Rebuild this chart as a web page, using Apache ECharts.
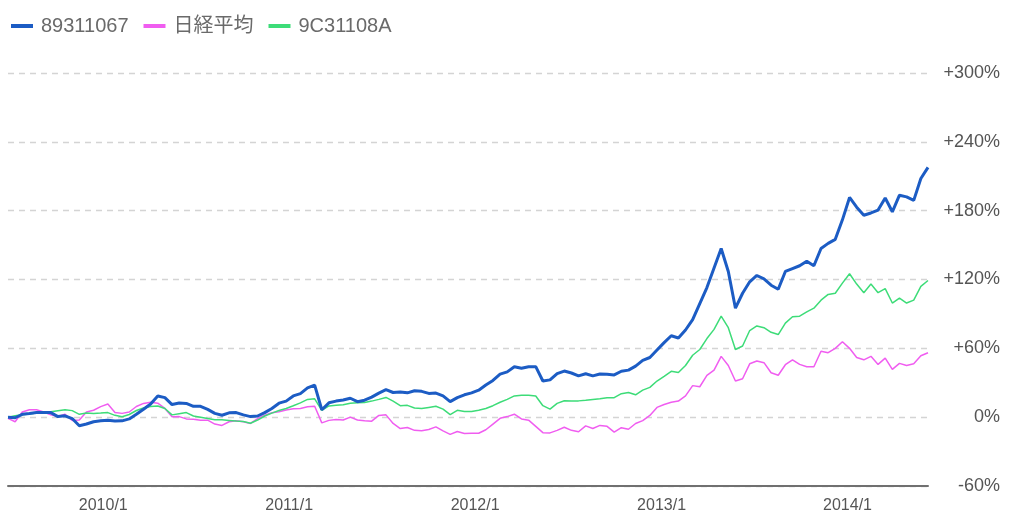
<!DOCTYPE html>
<html>
<head>
<meta charset="utf-8">
<script src="https://cdn.jsdelivr.net/npm/echarts@6/dist/echarts.min.js"></script>
<style>
html,body{margin:0;padding:0;background:#fff;}
#chart{width:1024px;height:530px;}
</style>
</head>
<body>
<div id="chart"></div>
<script>
// Biweekly observation dates (start date + 14-day steps), 130 points
const startDate = [2009, 5, 28];
const stepDays = 14;
const pointCount = 130;

const seriesNames = ['89311067', '日経平均', '9C31108A'];

// Returns in %
const fund89311067 = [
  0, -0.5, 2.5, 3.2, 4, 4.1, 4, 0.5, 1.2, -1.2,
  -7.5, -6, -4, -3.2, -2.6, -3.3, -3.2, -1.5, 2.5, 6.9,
  11.5, 18.5, 17, 11, 12.3, 12, 9.5, 9.5, 6.8, 3.3,
  1.7, 3.8, 4, 2, 0.5, 1, 4, 7.6, 12.2, 14,
  18.5, 20.5, 25.5, 28, 6.5, 12.5, 14, 15, 16.5, 13.5,
  14.8, 17.5, 21, 24, 21.5, 22, 21.2, 23, 22.5, 20.7,
  21, 18.5, 13.5, 17, 19.5, 21.2, 23.5, 28, 32, 37.5,
  39.5, 44, 42.7, 44, 44, 31.5, 32.5, 38, 40.2, 38.5,
  36, 37.8, 36, 37.6, 37.4, 36.8, 40, 41, 44.5, 49.5,
  52, 58.5, 65, 71, 69, 76, 85, 99, 113, 130,
  147, 127, 95, 108, 118, 123.5, 120.5, 115, 111.5, 127,
  129.5, 132, 136, 132, 147, 151.5, 155, 172, 191.5, 183,
  176, 178, 180.5, 191, 179, 193.5, 192, 189, 208, 217.7
];
const nikkei = [
  -1, -4, 4.5, 6.5, 6.5, 4.5, 2, 0.6, 2.5, -2.8,
  -2.4, 4.5, 6, 9.2, 11.5, 4.1, 3.3, 4.5, 9.3, 12,
  13, 12.2, 7.6, 0.3, 0.5, -1.5, -1.8, -2.6, -2.6, -6,
  -7.2, -4, -3.2, -4, -5.5, -1.2, 1.7, 3.8, 4.8, 6.2,
  7.3, 7.6, 9, 9.5, -5, -2.8, -2, -2.5, 0, -2.5,
  -3.2, -3.5, 1.5, 2, -5.5, -9.9, -9, -11.5, -11.8, -10.8,
  -8.5, -12, -15, -12.5, -14.3, -14, -14, -11, -6, -1,
  0.5, 2.6, -1.5, -2.6, -8, -13.5, -13.7, -11.5, -8.8, -11.5,
  -12.7, -7.6, -9.9, -7.2, -8, -13, -9.2, -10.5, -5.5, -3,
  1.5, 8.5, 11, 13, 14, 18.5, 27.5, 26.5, 36.5, 41,
  53, 45, 31.5, 33.5, 46.5, 48.9, 47.5, 38.7, 36.5, 45.7,
  50, 46, 44, 44, 57.5, 56.2, 60, 65.8, 60, 52,
  50, 53, 46, 51.5, 41.6, 46.9, 45, 46.5, 53.5, 56.2
];
const fund9C31108A = [
  0, 1.3, 2.2, 2.8, 3.7, 4.2, 4.7, 5.6, 6.5, 5.7,
  2.5, 3.7, 3.3, 3.6, 4, 1.6, 0.4, 2.3, 5.8, 8,
  9.2, 9.8, 7.5, 2, 3, 4, 1, 0, -1.2, -2.2,
  -2.3, -2.8, -3.4, -3.8, -5.3, -2.5, 1, 3.5, 5.8, 7.6,
  10, 12.5, 15.5, 16, 6, 9.8, 10.3, 10.8, 12.2, 12.5,
  12.8, 14, 15.5, 17.2, 14, 10, 10.3, 8, 7.5, 8.5,
  9.5, 7, 2.3, 6, 5, 5, 6, 7.5, 10, 13,
  15.5, 18.5, 19.2, 19.2, 18.5, 10, 7, 12, 14.3, 14,
  14.2, 14.8, 15.5, 16, 17, 17, 20.5, 21.5, 19.5, 23.6,
  26, 31.5, 35.5, 40, 39, 45, 54, 59, 68.5, 76.5,
  88, 78, 59, 62, 75.5, 79.5, 78, 74, 72, 82,
  87.5, 88, 91.8, 95, 102, 107, 108, 116.8, 125, 116,
  108.5, 116, 108.5, 112, 99.5, 103.8, 99.5, 102, 114, 119.1
];

const yMin = -60, yMax = 300, yStep = 60;
const colors = ['#1c5cc4', '#f05df0', '#3ddc78'];
const fontFamily = '"Liberation Sans", "Noto Sans CJK JP", sans-serif';

const dates = [];
for (let i = 0; i < pointCount; i++) {
  dates.push(new Date(startDate[0], startDate[1], startDate[2] + stepDays * i).getTime());
}
const pair = arr => arr.map((v, i) => [dates[i], v]);

const chart = echarts.init(document.getElementById('chart'));
chart.setOption({
  animation: false,
  backgroundColor: '#ffffff',
  textStyle: { fontFamily: fontFamily },
  legend: {
    left: 6, top: 11,
    itemWidth: 22, itemHeight: 4, itemGap: 15,
    icon: 'rect',
    textStyle: { fontSize: 20, color: '#6a6a6a', fontFamily: fontFamily, padding: [0, 0, 0, 3] },
    data: seriesNames
  },
  grid: { left: 8, right: 96, top: 73, bottom: 44, containLabel: false },
  xAxis: {
    type: 'time',
    min: dates[0], max: dates[dates.length - 1],
    splitNumber: 5,
    axisLine: { show: true, onZero: false, lineStyle: { color: '#707070', width: 2 } },
    axisTick: { show: false },
    splitLine: { show: false },
    axisLabel: {
      fontSize: 16, color: '#555', margin: 12,
      formatter: function (val) {
        const d = new Date(val);
        return d.getMonth() === 0 ? d.getFullYear() + '/1' : '';
      }
    }
  },
  yAxis: {
    type: 'value', position: 'right',
    min: yMin, max: yMax, interval: yStep,
    axisLine: { show: false }, axisTick: { show: false },
    splitLine: { show: true, lineStyle: { color: '#d4d4d4', type: [6, 5], width: 1.3 } },
    axisLabel: {
      fontSize: 18, color: '#555', margin: 72, align: 'right',
      formatter: v => (v > 0 ? '+' + v : '' + v) + '%'
    }
  },
  series: [
    { name: seriesNames[0], type: 'line', data: pair(fund89311067), showSymbol: false, z: 5,
      lineStyle: { color: colors[0], width: 3 }, itemStyle: { color: colors[0] } },
    { name: seriesNames[1], type: 'line', data: pair(nikkei), showSymbol: false, z: 3,
      lineStyle: { color: colors[1], width: 1.5 }, itemStyle: { color: colors[1] } },
    { name: seriesNames[2], type: 'line', data: pair(fund9C31108A), showSymbol: false, z: 4,
      lineStyle: { color: colors[2], width: 1.5 }, itemStyle: { color: colors[2] } }
  ]
});
</script>
</body>
</html>
